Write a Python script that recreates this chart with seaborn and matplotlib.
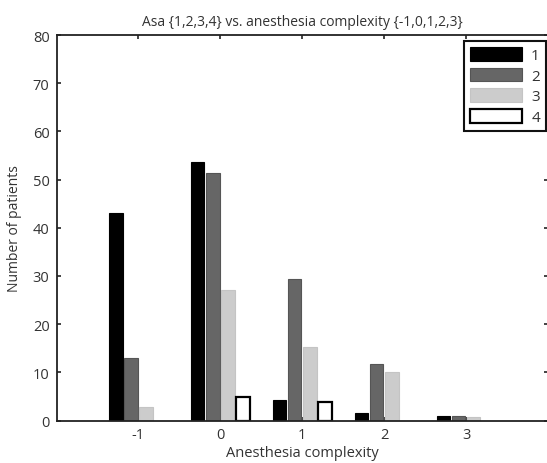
import matplotlib
matplotlib.use("Agg")
import matplotlib.pyplot as plt
from matplotlib.patches import Patch
import seaborn as sns
import pandas as pd

# Data
complexity = [-1, 0, 1, 2, 3]
asa_levels = ["1", "2", "3", "4"]
asa1 = [43.0, 53.6, 4.3, 1.6, 0.9]
asa2 = [13.0, 51.3, 29.3, 11.8, 0.9]
asa3 = [2.9, 27.1, 15.2, 10.1, 0.8]
asa4 = [0.0, 4.9, 3.8, 0.0, 0.0]
y_ticks = [0, 10, 20, 30, 40, 50, 60, 70, 80]

colors = {"1": "#000000", "2": "#666666", "3": "#cccccc", "4": "#ffffff"}
edges = {"1": "#000000", "2": "#555555", "3": "#c4c4c4", "4": "#000000"}

rows = []
for lvl, vals in zip(asa_levels, [asa1, asa2, asa3, asa4]):
    for c, v in zip(complexity, vals):
        if v > 0:
            rows.append({"complexity": c, "asa": lvl, "n": v})
df = pd.DataFrame(rows)

sns.set_style("white")
plt.rcParams["font.family"] = ["Open Sans", "DejaVu Sans"]
text_color = "#333333"

fig = plt.figure(figsize=(5.47, 4.64), dpi=100)
ax_bottom, ax_top = 421.5, 36
ax = fig.add_axes([56.5 / 547, 1 - ax_bottom / 464, (548 - 56.5) / 547, (ax_bottom - ax_top) / 464])

sns.barplot(data=df, x="complexity", y="n", hue="asa", hue_order=asa_levels,
            palette=colors, native_scale=True, width=0.74, gap=0.1,
            errorbar=None, legend=False, ax=ax, saturation=1)

for lvl, cont in zip(asa_levels, ax.containers):
    for bar in cont:
        bar.set_edgecolor(edges[lvl])
        bar.set_linewidth(1.6 if lvl == "4" else 0.8)

ax.set_xlim(-2, 4)
ax.set_ylim(0, 80)
ax.set_xticks(complexity)
ax.set_xticklabels([str(c) for c in complexity])
ax.set_yticks(y_ticks)

for s in ax.spines.values():
    s.set_visible(True)
    s.set_color("#222222")
    s.set_linewidth(1.3)

ax.tick_params(axis="both", direction="in", length=3, width=1.2, color="#222222",
               labelsize=10.5, labelcolor=text_color, top=True, right=True,
               bottom=True, left=True, pad=5)

ax.set_xlabel("Anesthesia complexity", fontsize=10.5, color=text_color)
ax.xaxis.set_label_coords(0.5, (ax_bottom - 446) / (ax_bottom - ax_top))
ax.set_ylabel("Number of patients", fontsize=10, color=text_color, labelpad=8)
ax.set_title("Asa {1,2,3,4} vs. anesthesia complexity {-1,0,1,2,3}",
             fontsize=10, color=text_color, pad=7)

handles = [Patch(facecolor=colors[l], edgecolor=edges[l],
                 linewidth=1.6 if l == "4" else 0.8) for l in asa_levels]
leg = ax.legend(handles, asa_levels, loc="upper right",
                bbox_to_anchor=(546 / 547, 1 - 42 / 464), bbox_transform=fig.transFigure,
                borderaxespad=0, fancybox=False, framealpha=1, edgecolor="#111111",
                fontsize=11, handlelength=3.4, handleheight=1.0, handletextpad=0.6,
                labelspacing=0.3, borderpad=0.4)
leg.get_frame().set_linewidth(1.5)
for t in leg.get_texts():
    t.set_color(text_color)

fig.savefig("out.png", dpi=100)
